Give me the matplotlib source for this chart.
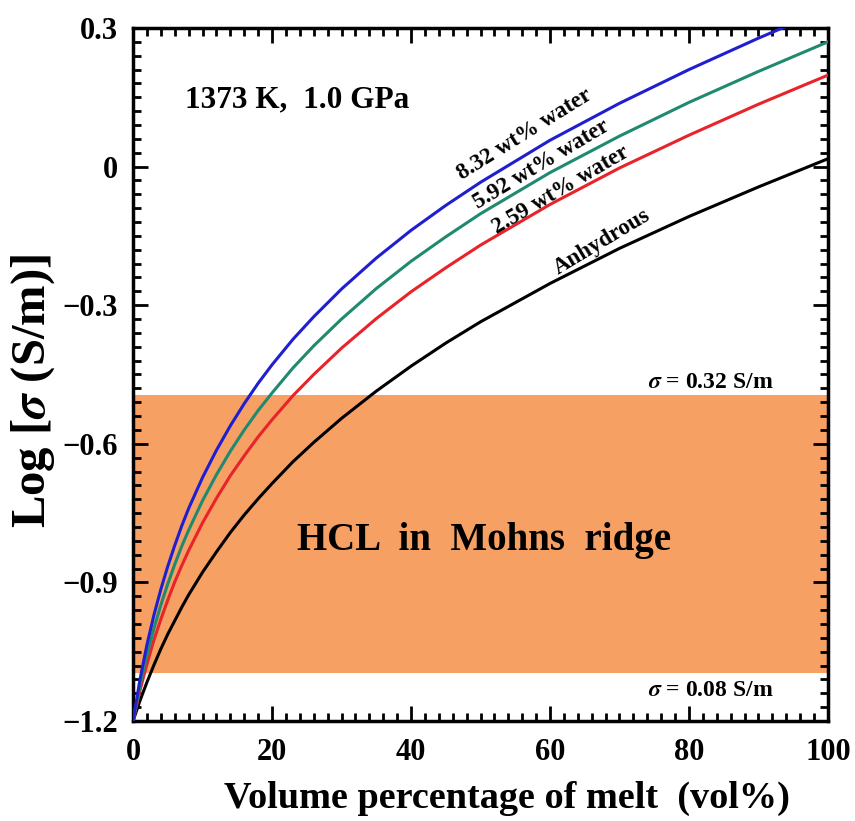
import matplotlib
matplotlib.use("Agg")
import matplotlib.pyplot as plt
from matplotlib.ticker import MultipleLocator

plt.rcParams['font.family'] = ['Liberation Serif', 'DejaVu Serif']
plt.rcParams['font.weight'] = 'bold'
plt.rcParams['mathtext.fontset'] = 'stix'

# volume % of melt (shared x grid for all curves)
melt = [0, 1, 2, 3, 4, 5, 6, 7, 8, 10, 12, 14, 16, 18, 20, 23, 26, 30, 35, 40, 45, 50,
        60, 70, 80, 90, 100]

# log conductivity
y_832 = [-1.200, -1.110, -1.035, -0.971, -0.915, -0.865, -0.820, -0.778, -0.740, -0.673,
         -0.614, -0.561, -0.513, -0.469, -0.429, -0.374, -0.325, -0.265, -0.198, -0.138,
         -0.084, -0.034, 0.057, 0.137, 0.210, 0.278, 0.342]
y_592 = [-1.200, -1.123, -1.057, -1.000, -0.949, -0.903, -0.861, -0.822, -0.787, -0.723,
         -0.667, -0.616, -0.570, -0.528, -0.490, -0.436, -0.388, -0.330, -0.264, -0.205,
         -0.152, -0.102, -0.013, 0.066, 0.139, 0.206, 0.270]
y_259 = [-1.200, -1.134, -1.077, -1.025, -0.980, -0.938, -0.899, -0.864, -0.831, -0.771,
         -0.718, -0.669, -0.626, -0.585, -0.548, -0.496, -0.450, -0.393, -0.329, -0.271,
         -0.219, -0.170, -0.082, -0.003, 0.068, 0.135, 0.198]
y_dry = [-1.200, -1.156, -1.116, -1.079, -1.044, -1.012, -0.983, -0.954, -0.927, -0.878,
         -0.834, -0.792, -0.754, -0.719, -0.686, -0.639, -0.597, -0.545, -0.486, -0.432,
         -0.382, -0.336, -0.253, -0.177, -0.108, -0.044, 0.017]

band_lo = -1.097   # log 0.08
band_hi = -0.495   # log 0.32

yticks = [-1.2, -0.9, -0.6, -0.3, 0, 0.3]
ytick_labels = ['\u22121.2', '\u22120.9', '\u22120.6', '\u22120.3', '0', '0.3']
xticks = [0, 20, 40, 60, 80, 100]

fig = plt.figure(figsize=(8.55, 8.21), dpi=100)
ax = fig.add_axes([0.1556, 0.1218, 0.8128, 0.8441])

ax.axhspan(band_lo, band_hi, color='#f6a064', lw=0, zorder=0)

ax.plot(melt, y_dry, color='black', lw=2.2, zorder=3)
ax.plot(melt, y_259, color='#e8232a', lw=2.2, zorder=3)
ax.plot(melt, y_592, color='#1f8a70', lw=2.2, zorder=3)
ax.plot(melt, y_832, color='#1f1fd0', lw=2.2, zorder=3)

ax.set_xlim(0, 100)
ax.set_ylim(-1.2, 0.3)
ax.set_xticks(xticks)
ax.set_yticks(yticks)
ax.set_yticklabels(ytick_labels)
ax.xaxis.set_minor_locator(MultipleLocator(2))
ax.yaxis.set_minor_locator(MultipleLocator(0.03))
ax.tick_params(which='both', direction='in', top=True, right=True, width=2, labelsize=22)
ax.tick_params(axis='y', pad=11)
ax.tick_params(axis='x', pad=12)
ax.tick_params(which='major', length=11)
ax.tick_params(which='minor', length=6)
for s in ax.spines.values():
    s.set_linewidth(2.5)

ax.set_xlabel('Volume percentage of melt  (vol%)', fontsize=27.5, fontweight='bold',
              labelpad=10, x=0.538)
ax.set_ylabel(r'Log [$\sigma$ (S/m)]', fontsize=35, fontweight='bold', labelpad=4, y=0.476)

ax.text(7.5, 0.144, '1373 K,  1.0 GPa', fontsize=22.5, fontweight='bold', va='center', ha='left')
ax.text(50.5, -0.81, 'HCL  in  Mohns  ridge', fontsize=28, fontweight='bold', ha='center', va='center')
ax.text(83.2, -0.468, r'$\sigma$ = 0.32 S/m', fontsize=17, fontweight='bold', ha='center', va='center')
ax.text(83.2, -1.133, r'$\sigma$ = 0.08 S/m', fontsize=17, fontweight='bold', ha='center', va='center')

lab_kw = dict(fontsize=16.5, fontweight='bold', ha='center', va='center', rotation_mode='anchor')
ax.text(56.4, 0.070, '8.32 wt% water', rotation=32, **lab_kw)
ax.text(58.8, 0.005, '5.92 wt% water', rotation=31, **lab_kw)
ax.text(61.6, -0.050, '2.59 wt% water', rotation=30.5, **lab_kw)
ax.text(67.5, -0.163, 'Anhydrous', rotation=31, **lab_kw)

fig.savefig('out.png', dpi=100)
